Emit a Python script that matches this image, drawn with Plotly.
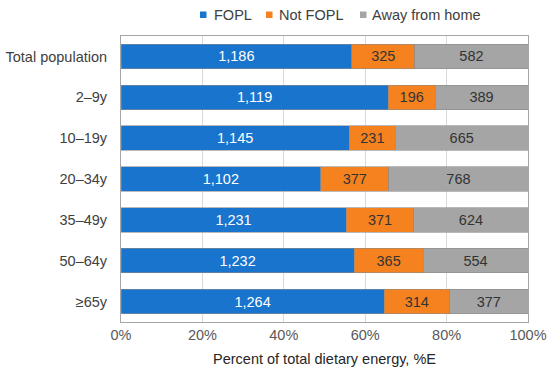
import plotly.graph_objects as go

categories = ["Total population", "2–9y", "10–19y", "20–34y", "35–49y", "50–64y", "≥65y"]
fopl = [1186, 1119, 1145, 1102, 1231, 1232, 1264]
not_fopl = [325, 196, 231, 377, 371, 365, 314]
away = [582, 389, 665, 768, 624, 554, 377]
series_names = ["FOPL", "Not FOPL", "Away from home"]
colors = ["#1874CD", "#F5821F", "#A5A5A5"]
text_colors = ["white", "#333333", "#333333"]
tick_vals = [0, 20, 40, 60, 80, 100]
tick_text = ["0%", "20%", "40%", "60%", "80%", "100%"]

FONT = "Liberation Sans, Arial, sans-serif"
L, R, T, B, W, H = 121, 22, 36, 56, 550, 378
PW, PH = W - L - R, H - T - B

fig = go.Figure()
for name, vals, c, tc in zip(series_names, [fopl, not_fopl, away], colors, text_colors):
    fig.add_trace(go.Bar(
        y=categories, x=vals, name=name, orientation="h",
        marker=dict(color=c, line=dict(color="#8c8c8c", width=0.6)),
        text=[f"{v:,}" for v in vals], textposition="inside",
        insidetextanchor="middle", textangle=0, constraintext="none",
        textfont=dict(color=tc, size=14.5, family=FONT),
        hoverinfo="skip", showlegend=False,
    ))

# custom legend (small squares close to text)
legend_px = [(200, 212), (266, 277), (360, 370)]
for (sq_x, tx_x), name, c in zip(legend_px, series_names, colors):
    fig.add_shape(type="rect", xref="paper", yref="paper",
                  x0=(sq_x - L) / PW, x1=(sq_x + 6.5 - L) / PW,
                  y0=(H - B - 18) / PH, y1=(H - B - 11.5) / PH,
                  fillcolor=c, line=dict(width=0))
    fig.add_annotation(text=name, xref="paper", yref="paper",
                       x=(tx_x - L) / PW, y=(H - B - 15) / PH,
                       xanchor="left", yanchor="middle", showarrow=False,
                       font=dict(size=14.5, color="#404040", family=FONT))

fig.update_layout(
    barmode="stack", barnorm="percent", bargap=0.4,
    width=W, height=H,
    margin=dict(l=L, r=R, t=T, b=B, autoexpand=False),
    plot_bgcolor="white", paper_bgcolor="white",
    font=dict(family=FONT, size=14.5, color="#404040"),
    showlegend=False,
    xaxis=dict(range=[0, 100], tickvals=tick_vals, ticktext=tick_text,
               showgrid=True, gridcolor="#d9d9d9", gridwidth=1,
               tickfont=dict(size=14.5, color="#595959"),
               title=dict(text="Percent of total dietary energy, %E",
                          font=dict(size=14.5, color="#262626"), standoff=11),
               showline=True, linecolor="#a6a6a6", mirror=True, zeroline=False, ticks="",
               automargin=False, ticklabeloverflow="allow"),
    yaxis=dict(autorange="reversed", tickfont=dict(size=14.5, color="#404040"),
               showline=True, linecolor="#a6a6a6", mirror=True, ticks="", ticklabelstandoff=10,
               automargin=False),
)

fig.write_html("out.html", config={"displayModeBar": False},
               post_script="document.body.style.margin='0';document.body.style.overflow='hidden';")
